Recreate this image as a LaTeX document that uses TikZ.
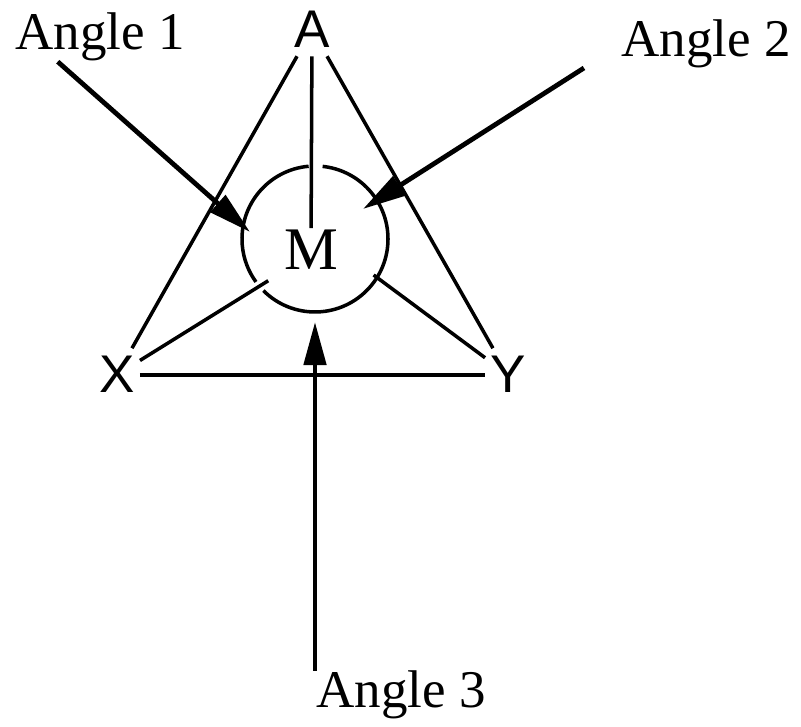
\documentclass[tikz,border=0pt]{standalone}
\usepackage{fontspec}
\setmainfont{Liberation Serif}
\newfontfamily\vertexfont{Liberation Sans}
\usetikzlibrary{arrows.meta}
\usetikzlibrary{calc}

\begin{document}
\begin{tikzpicture}[x=0.025cm, y=0.025cm,
    sideline/.style={line width=2.5pt},
    anglearrow/.style={line width=3.4pt, -{Triangle[length=1.075cm,width=0.55cm]}},
    vertex/.style={anchor=base, inner xsep=0.125cm, inner ysep=0.2cm,
        font=\vertexfont\fontsize{37.7}{40}\selectfont},
    centre/.style={anchor=base, inner sep=0.05cm, font=\fontsize{43}{45}\selectfont},
    angletext/.style={anchor=base, inner sep=0pt, font=\fontsize{37.7}{40}\selectfont}]
    \useasboundingbox (0,0) rectangle (801,727);

    \node[vertex] (A) at (312,679) {A};
    \node[vertex] (X) at (117,334) {X};
    \node[vertex] (Y) at (508,334) {Y};
    \node[centre] (M) at (311,457) {M};

    \node[angletext] (ang1) at (100,677) {Angle 1};
    \node[angletext] (ang2) at (706,670) {Angle 2};
    \node[angletext] (ang3) at (401,19) {Angle 3};

    \coordinate (ring) at (315,488);
    \coordinate (tip1) at (250,495);
    \coordinate (tip2) at (363,518);
    \coordinate (tip3) at (315,405);

    % triangle
    \draw[sideline] (A) -- (X);
    \draw[sideline] (A) -- (Y);
    \draw[sideline] (X) -- (Y);
    % spokes to M
    \draw[sideline] (A) -- (M);
    \draw[sideline, shorten >=0.4cm] (X) -- (M.south west);
    \draw[sideline, shorten >=1.04cm] (Y) -- (M.east);

    % broken circle round M
    \draw[sideline] (ring) ++(95:73) arc[start angle=95, end angle=216, radius=73];
    \draw[sideline] (ring) ++(225:73) arc[start angle=225, end angle=444, radius=73];

    % the three angles
    \draw[anglearrow] (ang1.210) -- (tip1);
    \draw[anglearrow, shorten <=1.1cm] (ang2.west) -- (tip2);
    \draw[anglearrow] (tip3 |- ang3.north) -- (tip3);
\end{tikzpicture}
\end{document}
